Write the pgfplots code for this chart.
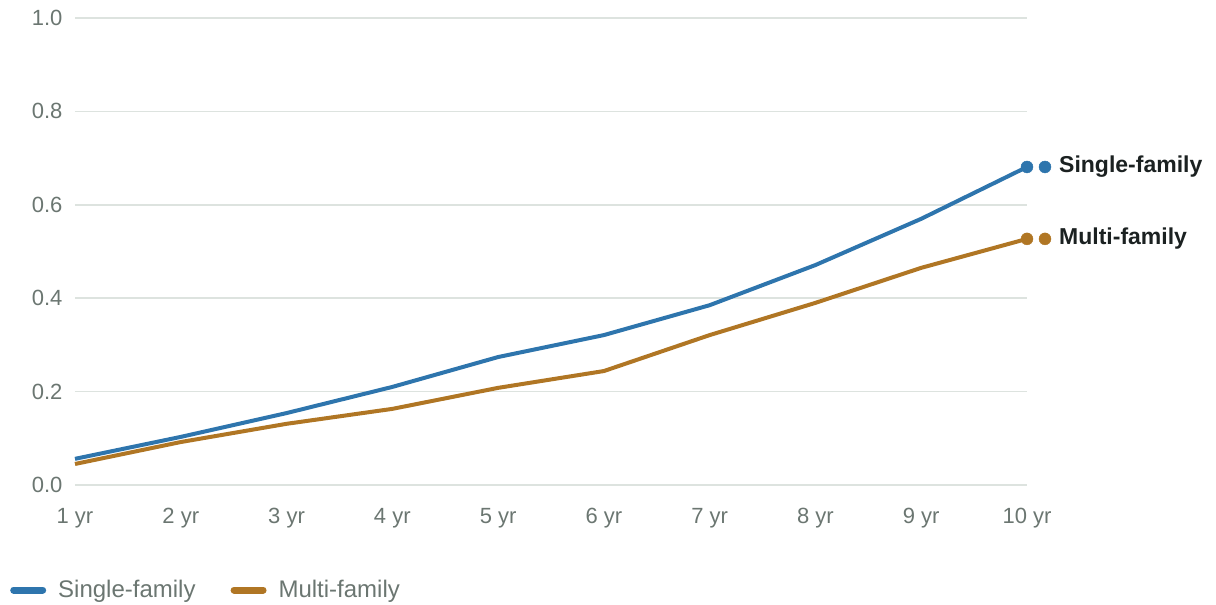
\documentclass[border=0pt]{standalone}
\usepackage{pgfplots}
\pgfplotsset{compat=1.18}
\usepackage{fontspec}
\setmainfont{Liberation Sans}
\definecolor{sfblue}{HTML}{2E75AD}
\definecolor{mfbrown}{HTML}{B07624}
\definecolor{tickgray}{HTML}{6B7671}
\definecolor{gridc}{HTML}{DDE3DF}
\definecolor{labdark}{HTML}{1B2121}
\begin{document}
\begin{tikzpicture}
\path[use as bounding box] (-75pt,-120pt) rectangle (1141pt,485pt);
\begin{axis}[
  scale only axis, width=952pt, height=467pt,
  xmin=0, xmax=9, ymin=0, ymax=1,
  axis line style={draw=none},
  xtick={0,...,9},
  xticklabels={1 yr,2 yr,3 yr,4 yr,5 yr,6 yr,7 yr,8 yr,9 yr,10 yr},
  ytick={0,0.2,0.4,0.6,0.8,1.0},
  yticklabel style={/pgf/number format/fixed,/pgf/number format/fixed zerofill,/pgf/number format/precision=1, xshift=-9pt},
  /pgf/number format/assume math mode=true,
  major tick length=0pt,
  ymajorgrids, grid style={gridc, line width=1.5pt},
  tick label style={font=\fontsize{22}{26}\selectfont, text=tickgray},
  xticklabel style={yshift=-20pt},
  clip=false,
  legend columns=2,
  legend style={at={(-68pt,-105pt)}, anchor=west, draw=none, fill=none,
    font=\fontsize{24}{28}\selectfont, text=tickgray,
    /tikz/every odd column/.append style={column sep=10pt},
    /tikz/every even column/.append style={column sep=33pt}},
  legend image code/.code={\draw[#1, line width=7pt, line cap=round] (0pt,0pt) -- (29pt,0pt);},
]
\addplot[sfblue, line width=4pt, line join=round] coordinates {
(0,0.056) (1,0.103) (2,0.154) (3,0.210) (4,0.274) (5,0.321) (6,0.385) (7,0.471) (8,0.570) (9,0.681)};
\addlegendentry{Single-family}
\addplot[mfbrown, line width=4pt, line join=round] coordinates {
(0,0.045) (1,0.092) (2,0.131) (3,0.163) (4,0.208) (5,0.244) (6,0.321) (7,0.390) (8,0.465) (9,0.527)};
\addlegendentry{Multi-family}
\addplot[only marks, mark=*, mark size=6pt, sfblue, forget plot] coordinates {(9,0.681)};
\addplot[only marks, mark=*, mark size=6pt, sfblue, forget plot, every mark/.append style={xshift=18pt}] coordinates {(9,0.681)};
\addplot[only marks, mark=*, mark size=6pt, mfbrown, forget plot] coordinates {(9,0.527)};
\addplot[only marks, mark=*, mark size=6pt, mfbrown, forget plot, every mark/.append style={xshift=18pt}] coordinates {(9,0.527)};
\node[anchor=west, font=\fontsize{23}{27}\selectfont\bfseries, text=labdark, inner sep=0pt] at ([xshift=32pt]axis cs:9,0.681) {Single-family};
\node[anchor=west, font=\fontsize{23}{27}\selectfont\bfseries, text=labdark, inner sep=0pt] at ([xshift=32pt]axis cs:9,0.527) {Multi-family};
\end{axis}
\end{tikzpicture}
\end{document}
